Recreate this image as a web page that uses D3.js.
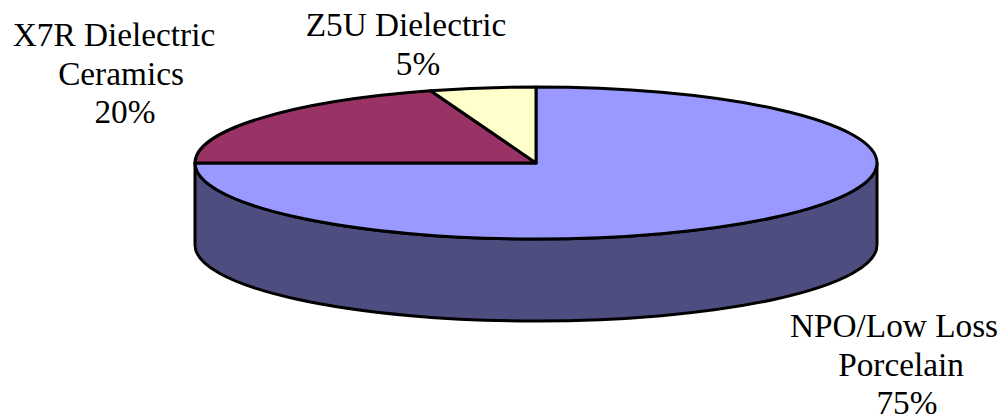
<!DOCTYPE html>
<html>
<head>
<meta charset="utf-8">
<script src="https://cdn.jsdelivr.net/npm/d3@7"></script>
<style>
  html, body { margin: 0; padding: 0; background: #fff; }
  svg { display: block; }
  .pieLabel { font-family: "Liberation Serif", serif; font-size: 33.3px; fill: #000; text-anchor: middle; }
  .pieEdge { stroke: #000; stroke-width: 3px; vector-effect: non-scaling-stroke; stroke-linejoin: round; }
</style>
</head>
<body>
<div id="chart"></div>
<script>
var categories = ["NPO/Low Loss Porcelain", "X7R Dielectric Ceramics", "Z5U Dielectric"];
var shares = [75, 20, 5];
var labelLines = [
  ["NPO/Low Loss", "Porcelain", "75%"],
  ["X7R Dielectric", "Ceramics", "20%"],
  ["Z5U Dielectric", "5%"]
];
var topColors = ["#9999ff", "#993366", "#ffffcc"];
var sideColor = "#4d4d80";

var svgWidth = 1001;
var svgHeight = 416;

// the pie is drawn round, then squashed to an ellipse
var cx = 536;
var cy = 163;
var rx = 341;
var ry = 76;
var depth = 82;
var squash = ry / rx;

// each line of a label sits a bit off centre in the original, so x per line
var labelSpot = [
  { x: [894, 901, 907], y: 337 },
  { x: [114, 121, 125], y: 46 },
  { x: [406, 418], y: 36 }
];
var lineGap = 38.5;

var svg = d3.select("#chart")
  .append("svg")
  .attr("width", svgWidth)
  .attr("height", svgHeight);

var pieGroup = svg.append("g")
  .attr("transform", `translate(${cx}, ${cy}) scale(1, ${squash})`);

// side wall
var wall = d3.path();
wall.moveTo(-rx, 0);
wall.lineTo(-rx, depth / squash);
wall.arc(0, depth / squash, rx, Math.PI, 0, true);
wall.lineTo(rx, 0);
wall.arc(0, 0, rx, 0, Math.PI, false);
wall.closePath();

pieGroup.append("path")
  .attr("class", "pieEdge")
  .attr("d", wall.toString())
  .attr("fill", sideColor);

// top slices, clockwise from 12 o'clock
var pie = d3.pie().sort(null);
var arc = d3.arc().innerRadius(0).outerRadius(rx);

pieGroup.selectAll(".slice")
  .data(pie(shares))
  .enter()
  .append("path")
  .attr("class", "slice pieEdge")
  .attr("d", arc)
  .attr("fill", (d, i) => topColors[i]);

// labels
var labels = svg.selectAll(".pieLabel")
  .data(categories)
  .enter()
  .append("text")
  .attr("class", "pieLabel")
  .attr("y", (d, i) => labelSpot[i].y);

labels.selectAll("tspan")
  .data((d, i) => labelLines[i].map((t, j) => ({ t: t, x: labelSpot[i].x[j] })))
  .enter()
  .append("tspan")
  .attr("x", d => d.x)
  .attr("dy", (d, j) => j === 0 ? 0 : lineGap)
  .text(d => d.t);
</script>
</body>
</html>
